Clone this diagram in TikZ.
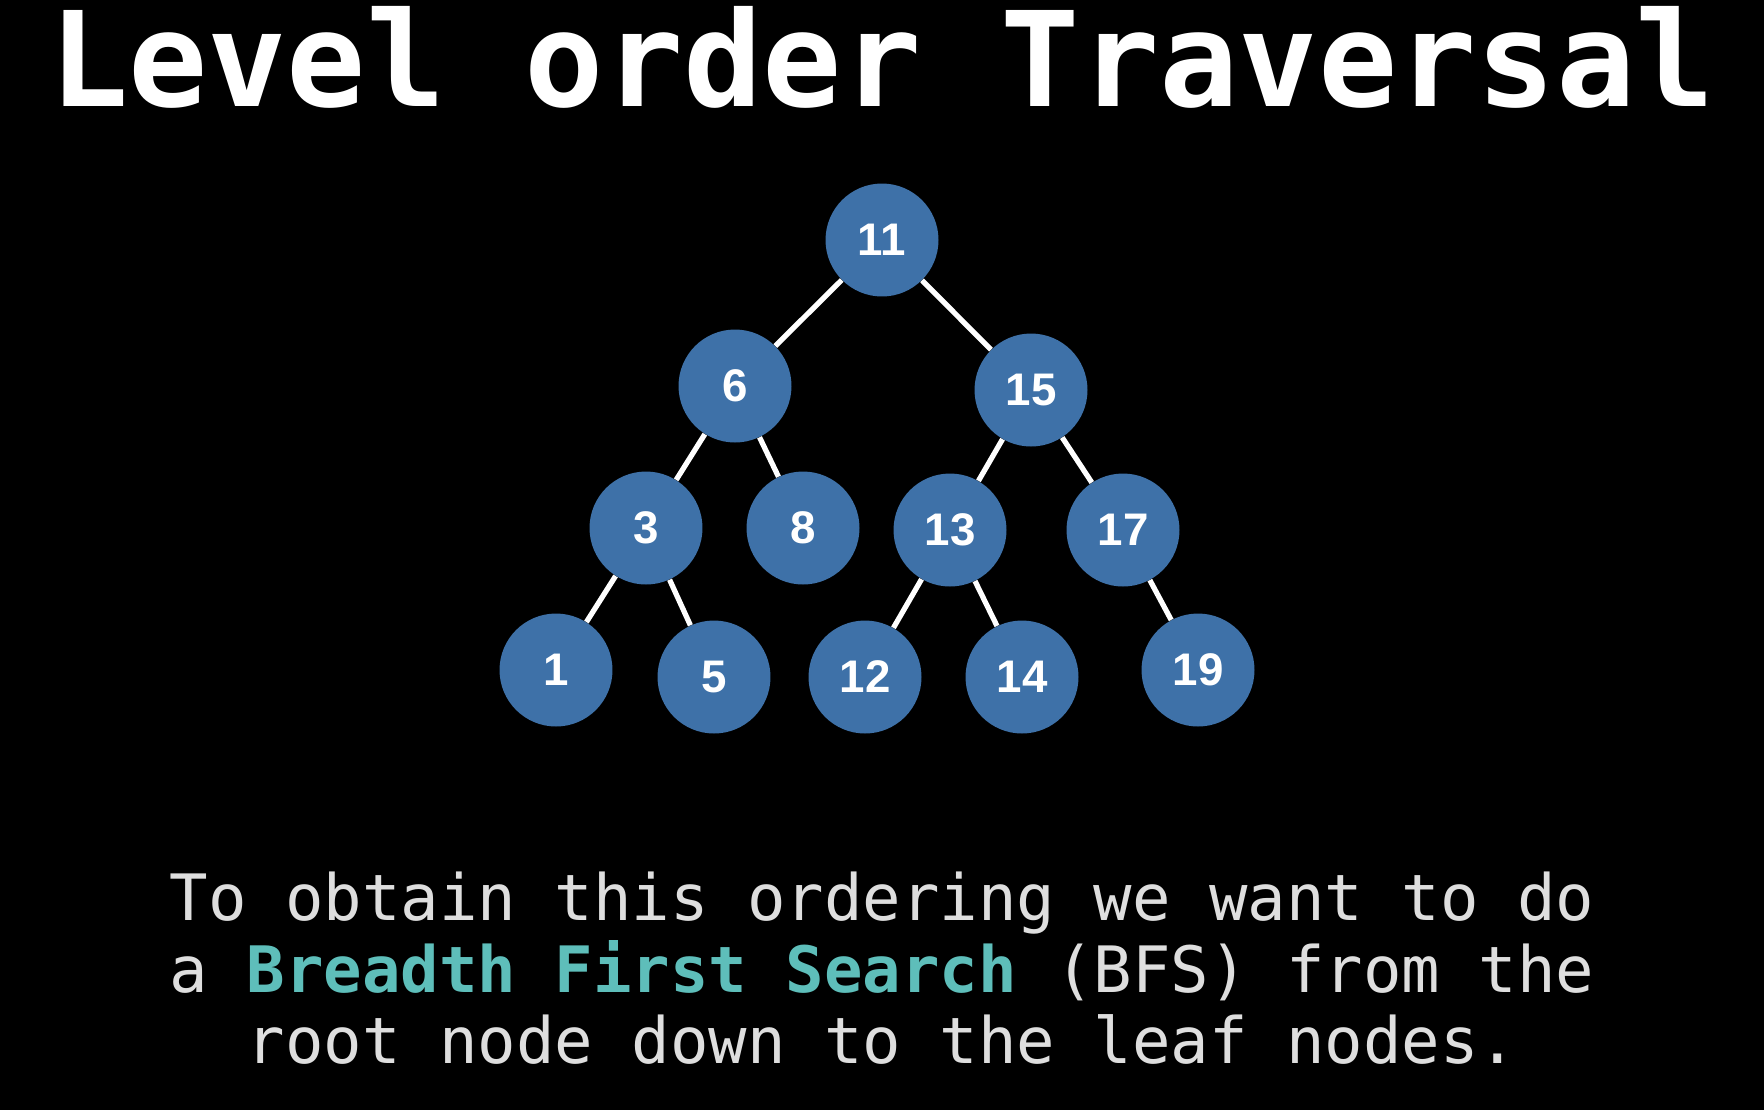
\documentclass[tikz,border=0pt]{standalone}
\usepackage{fontspec}
\usepackage{xcolor}
\setmonofont{DejaVu Sans Mono}
\setsansfont{Liberation Sans}
\usetikzlibrary{positioning}

\definecolor{nodeblue}{RGB}{62,113,168}
\definecolor{bfsteal}{RGB}{94,190,186}
\definecolor{captiongray}{RGB}{222,222,222}

\begin{document}
\begin{tikzpicture}[
    x=0.02cm, y=-0.02cm,
    treenode/.style={circle, fill=nodeblue, minimum size=2.26cm, inner sep=0pt, text=white, font=\sffamily\bfseries\fontsize{26}{30}\selectfont},
    link/.style={draw=white, line width=3pt},
    title/.style={text=white, font=\ttfamily\bfseries\fontsize{75}{80}\selectfont, anchor=base},
    caption/.style={text=captiongray, font=\ttfamily\fontsize{36.4}{40.7}\selectfont, anchor=base}
]

% Background
\fill[black] (0,0) rectangle (1764,1110);
\useasboundingbox (0,0) rectangle (1764,1110);

% Title
\node[title] (heading) at (882,106) {Level order Traversal};

% Tree
\node[treenode] (n11) at (882,240) {11};
\node[treenode] (n6) at (735,386) {6};
\node[treenode] (n15) at (1031,390) {15};
\node[treenode] (n3) at (646,528) {3};
\node[treenode] (n8) at (803,528) {8};
\node[treenode] (n13) at (950,530) {13};
\node[treenode] (n17) at (1123,530) {17};
\node[treenode] (n1) at (556,670) {1};
\node[treenode] (n5) at (714,677) {5};
\node[treenode] (n12) at (865,677) {12};
\node[treenode] (n14) at (1022,677) {14};
\node[treenode] (n19) at (1198,670) {19};

% Edges
\draw[link] (n11) -- (n6);
\draw[link] (n11) -- (n15);
\draw[link] (n6) -- (n3);
\draw[link] (n6) -- (n8);
\draw[link] (n15) -- (n13);
\draw[link] (n15) -- (n17);
\draw[link] (n3) -- (n1);
\draw[link] (n3) -- (n5);
\draw[link] (n13) -- (n12);
\draw[link] (n13) -- (n14);
\draw[link] (n17) -- (n19);

% Caption
\node[caption] (line1) at (882,920) {To obtain this ordering we want to do};
\node[caption] (line2) at (882,992) {a {\color{bfsteal}\bfseries Breadth First Search} (BFS) from the};
\node[caption] (line3) at (882,1063) {root node down to the leaf nodes.};

\end{tikzpicture}
\end{document}
